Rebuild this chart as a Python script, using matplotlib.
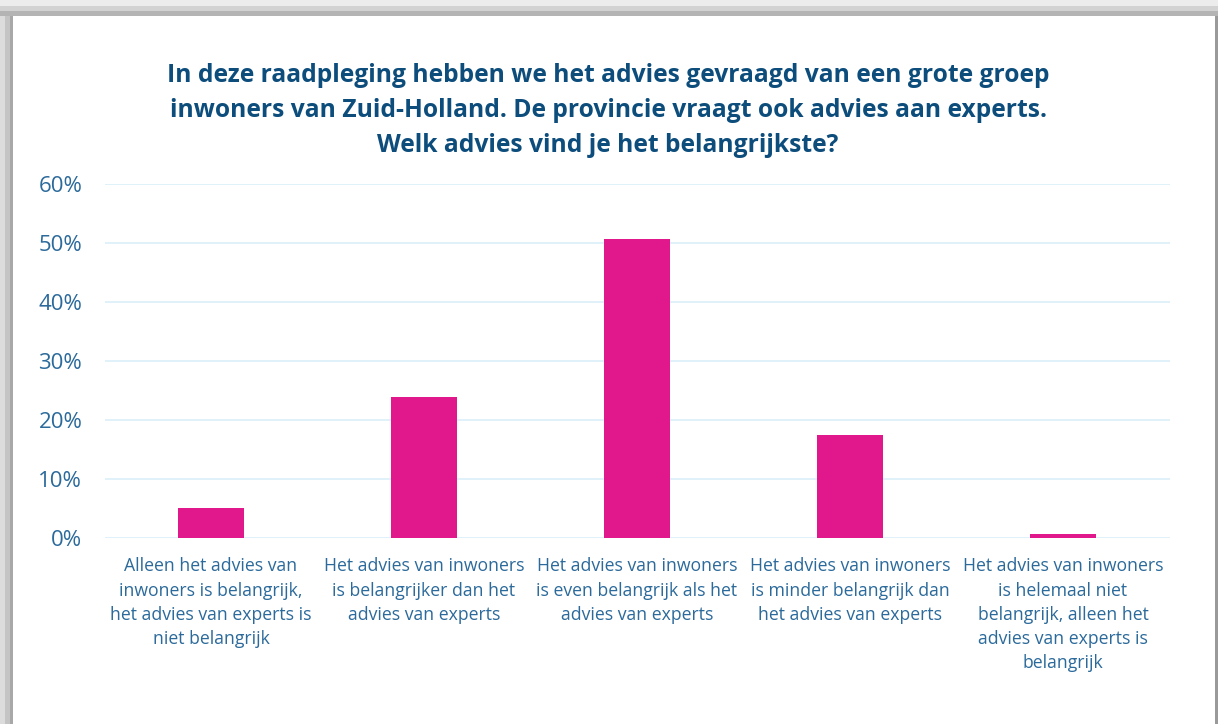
import matplotlib
matplotlib.use("Agg")
import matplotlib.pyplot as plt
from matplotlib.patches import Rectangle
from matplotlib.ticker import PercentFormatter

categories = [
    "Alleen het advies van\ninwoners is belangrijk,\nhet advies van experts is\nniet belangrijk",
    "Het advies van inwoners\nis belangrijker dan het\nadvies van experts",
    "Het advies van inwoners\nis even belangrijk als het\nadvies van experts",
    "Het advies van inwoners\nis minder belangrijk dan\nhet advies van experts",
    "Het advies van inwoners\nis helemaal niet\nbelangrijk, alleen het\nadvies van experts is\nbelangrijk",
]
values = [5.1, 23.9, 50.7, 17.5, 0.6]
yticks = [0, 10, 20, 30, 40, 50, 60]
title = ("In deze raadpleging hebben we het advies gevraagd van een grote groep\n"
         "inwoners van Zuid-Holland. De provincie vraagt ook advies aan experts.\n"
         "Welk advies vind je het belangrijkste?")

W, H = 1218, 724
fig = plt.figure(figsize=(W / 100, H / 100), dpi=100)
fig.patch.set_facecolor("#e6e6e6")

# frame / shadow
def px_rect(x0, y0, x1, y1, color, z=0):
    fig.patches.append(Rectangle((x0 / W, 1 - y1 / H), (x1 - x0) / W, (y1 - y0) / H,
                                 transform=fig.transFigure, facecolor=color,
                                 edgecolor="none", zorder=z))

px_rect(0, 0, W, 6, "#ececec")
px_rect(0, 6, W, 11, "#d2d2d2")
px_rect(0, 11, W, 16, "#b4b4b4")
px_rect(0, 16, 5, H, "#dcdcdc")
px_rect(5, 16, 10, H, "#c4c4c4")
px_rect(10, 16, 13, H, "#a8a8a8")
px_rect(1215, 16, W, H, "#9a9a9a")
px_rect(13, 16, 1215, H, "#ffffff")

left, right = 104.5, 1169.5
top, bottom = 184, 538
ax = fig.add_axes([left / W, 1 - bottom / H, (right - left) / W, (bottom - top) / H])
ax.set_facecolor("none")
ax.set_zorder(5)

x = list(range(len(categories)))
ax.bar(x, values, width=0.31, color="#e0188c", zorder=3)
ax.set_xlim(-0.5, len(categories) - 0.5)
ax.set_ylim(0, 60)
ax.set_yticks(yticks)
ax.yaxis.set_major_formatter(PercentFormatter(decimals=0))
ax.grid(axis="y", color="#dceff8", linewidth=1.2, zorder=0)
for s in ax.spines.values():
    s.set_visible(False)
ax.tick_params(axis="both", length=0)
ax.tick_params(axis="y", labelsize=16, labelcolor="#2b6a9b", pad=16)
ax.set_xticks(x)
ax.set_xticklabels(categories, fontsize=12.7, color="#2b6a9b", linespacing=1.44,
                   family="Open Sans")
ax.tick_params(axis="x", pad=14)
for lab in ax.get_yticklabels():
    lab.set_family("Open Sans")

t = fig.text(608 / W, 1 - 63 / H, title, ha="center", va="top", fontsize=17.7,
             fontweight="bold", color="#0d4d7c", family="Open Sans", linespacing=1.52)
t.set_zorder(5)

fig.savefig("out.png", dpi=100, facecolor=fig.get_facecolor())
